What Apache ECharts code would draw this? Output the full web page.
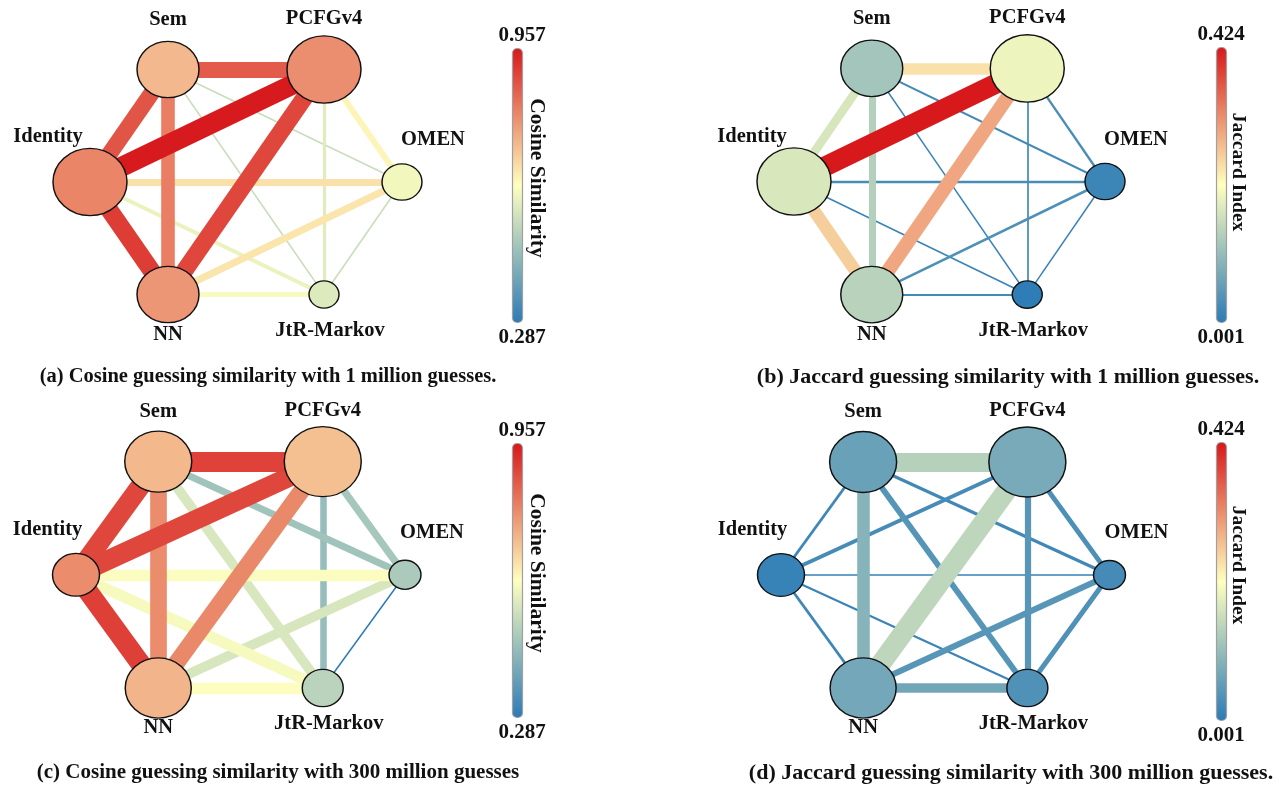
<!DOCTYPE html>
<html><head><meta charset="utf-8">
<script src="https://cdn.jsdelivr.net/npm/echarts@6/dist/echarts.min.js"></script>
<style>html,body{margin:0;padding:0;background:#fff}#c{width:1281px;height:786px}</style>
</head><body><div id="c"></div>
<script>
// ---------------- DATA ----------------
const nodeNames = ['Sem', 'PCFGv4', 'OMEN', 'JtR-Markov', 'NN', 'Identity'];
// relative size of each guesser's guess set (node area)
const guessSetSize1M   = [38.4, 54.8, 16.0, 9.0, 38.4, 54.8];
const guessSetSize300M = [44.9, 59.3, 10.2, 16.8, 43.6, 22.1];
// mean similarity per guesser (node colour)
const cosineNode1M    = [0.725, 0.786, 0.602, 0.568, 0.775, 0.800];
const jaccardNode1M   = [0.120, 0.195, 0.017, 0.004, 0.141, 0.174];
const cosineNode300M  = [0.724, 0.714, 0.488, 0.511, 0.731, 0.790];
const jaccardNode300M = [0.062, 0.077, 0.027, 0.037, 0.072, 0.012];
// pairwise similarity, pair order: (0,1)(0,2)(0,3)(0,4)(0,5)(1,2)(1,3)(1,4)(1,5)(2,3)(2,4)(2,5)(3,4)(3,5)(4,5)
const cosineEdge1M    = [0.860, 0.535, 0.535, 0.810, 0.870, 0.636, 0.575, 0.890, 0.955, 0.540, 0.660, 0.665, 0.611, 0.590, 0.905];
const jaccardEdge1M   = [0.240, 0.025, 0.015, 0.137, 0.172, 0.030, 0.015, 0.293, 0.424, 0.012, 0.035, 0.030, 0.025, 0.015, 0.258];
const cosineEdge300M  = [0.898, 0.471, 0.560, 0.790, 0.890, 0.480, 0.455, 0.796, 0.890, 0.287, 0.558, 0.615, 0.617, 0.610, 0.900];
const jaccardEdge300M = [0.138, 0.022, 0.042, 0.092, 0.020, 0.034, 0.045, 0.147, 0.028, 0.036, 0.045, 0.010, 0.070, 0.015, 0.020];
const cosineRange  = [0.287, 0.957];
const jaccardRange = [0.001, 0.424];
const captions = [
  '(a) Cosine guessing similarity with 1 million guesses.',
  '(b) Jaccard guessing similarity with 1 million guesses.',
  '(c) Cosine guessing similarity with 300 million guesses',
  '(d) Jaccard guessing similarity with 300 million guesses.'
];
const barTitles = ['Cosine Similarity', 'Jaccard Index'];

// ---------------- STYLE / LAYOUT ----------------
const FONT = '"Liberation Serif", "Times New Roman", serif';
const cmap = ['#2c7bb6', '#ffffbf', '#d7191c'];
function hex2rgb(h) { h = h.replace('#', ''); return [0, 2, 4].map(i => parseInt(h.substr(i, 2), 16)); }
const cmapRGB = cmap.map(hex2rgb);
function colorAt(v, range) {
  let t = (v - range[0]) / (range[1] - range[0]);
  t = Math.max(0, Math.min(1, t));
  const seg = t * (cmapRGB.length - 1);
  const i = Math.min(cmapRGB.length - 2, Math.floor(seg));
  const f = seg - i;
  const a = cmapRGB[i], b = cmapRGB[i + 1];
  return 'rgb(' + a.map((c, k) => Math.round(c + (b[k] - c) * f)).join(',') + ')';
}

const panels = [
  { grid: {left: 90, right: 879, top: 69.5, bottom: 491.5}, sizes: guessSetSize1M, node: cosineNode1M, edge: cosineEdge1M, range: cosineRange,
    bar: {left: 513, top: 49, h: 273}, labelX: 522, title: barTitles[0], titleSize: 21.5, titlePos: [537, 178], capPos: [268, 377], capSize: 20.5 },
  { grid: {left: 794, right: 176, top: 68.4, bottom: 491.4}, sizes: guessSetSize1M, node: jaccardNode1M, edge: jaccardEdge1M, range: jaccardRange,
    bar: {left: 1217, top: 48, h: 274}, labelX: 1221, title: barTitles[1], titleSize: 19.5, titlePos: [1238, 172], capPos: [1008, 377], capSize: 22 },
  { grid: {left: 76, right: 876, top: 461.6, bottom: 98}, sizes: guessSetSize300M, node: cosineNode300M, edge: cosineEdge300M, range: cosineRange,
    bar: {left: 513, top: 444, h: 273}, labelX: 522, title: barTitles[0], titleSize: 21.5, titlePos: [537, 573], capPos: [278, 773], capSize: 21 },
  { grid: {left: 781, right: 171.5, top: 462, bottom: 98}, sizes: guessSetSize300M, node: jaccardNode300M, edge: jaccardEdge300M, range: jaccardRange,
    bar: {left: 1217, top: 443, h: 277}, labelX: 1221, title: barTitles[1], titleSize: 19.5, titlePos: [1238, 565], capPos: [1011, 773], capSize: 22 }
];

// hexagon layout: Sem at 120deg, going clockwise in 60deg steps
function nodePos(i) {
  const a = (120 - 60 * i) * Math.PI / 180;
  return [Math.cos(a), Math.sin(a) / Math.sin(Math.PI / 3)];
}
function diameter(size) { return 10 * Math.sqrt(size); }
function labelOffset(name, w) {
  switch (name) {
    case 'Sem': return [0, -50];
    case 'PCFGv4': return [0, -51];
    case 'OMEN': return [w / 2 + 11, -42];
    case 'JtR-Markov': return [6, 36];
    case 'NN': return [0, 40];
    case 'Identity': return [-(w / 2 + 5), -45];
  }
  return [0, 0];
}

const pairs = [];
for (let i = 0; i < nodeNames.length; i++) for (let j = i + 1; j < nodeNames.length; j++) pairs.push([i, j]);

const grids = [], xAxes = [], yAxes = [], series = [], visualMaps = [], graphics = [];
panels.forEach((p, k) => {
  grids.push(Object.assign({containLabel: false}, p.grid));
  xAxes.push({type: 'value', gridIndex: k, min: -1, max: 1, show: false});
  yAxes.push({type: 'value', gridIndex: k, min: -1, max: 1, show: false});
  const eMin = Math.min(...p.edge), eMax = Math.max(...p.edge);
  const links = pairs.map((pr, e) => ({
    source: nodeNames[pr[0]], target: nodeNames[pr[1]], v: p.edge[e],
    lineStyle: {width: 1.5 + 18.5 * (p.edge[e] - eMin) / (eMax - eMin), color: colorAt(p.edge[e], p.range), opacity: 1}
  })).sort((a, b) => a.v - b.v);
  const data = nodeNames.map((n, i) => {
    const w = diameter(p.sizes[i]);
    return {
      name: n, value: nodePos(i), symbolSize: [w, w * 0.91],
      itemStyle: {color: colorAt(p.node[i], p.range), borderColor: '#111', borderWidth: 1.4},
      label: {offset: labelOffset(n, w)}
    };
  });
  series.push({
    type: 'graph', coordinateSystem: 'cartesian2d', xAxisIndex: k, yAxisIndex: k,
    symbol: 'circle', data: data, links: links, edgeSymbol: ['none', 'none'],
    lineStyle: {curveness: 0, opacity: 1},
    label: {show: true, position: 'inside', color: '#111', fontFamily: FONT, fontWeight: 'bold', fontSize: 20.5},
    emphasis: {disabled: true}, silent: true, animation: false
  });
  visualMaps.push({
    type: 'continuous', seriesIndex: [], min: p.range[0], max: p.range[1], orient: 'vertical',
    left: p.bar.left, top: p.bar.top, itemWidth: 9, itemHeight: p.bar.h, padding: 0,
    calculable: false, hoverLink: false, inRange: {color: cmap}
  });
  graphics.push({type: 'rect', z: 100, shape: {x: p.bar.left - 0.5, y: p.bar.top - 0.5, width: 10, height: p.bar.h + 1, r: 4.5},
    style: {fill: 'none', stroke: '#a0a0a0', lineWidth: 1.2}, silent: true});
  graphics.push({type: 'text', z: 100, x: p.labelX, y: p.bar.top - 13,
    style: {text: p.range[1].toFixed(3), font: 'bold 21px ' + FONT, fill: '#111', align: 'center', verticalAlign: 'middle'}});
  graphics.push({type: 'text', z: 100, x: p.labelX, y: p.bar.top + p.bar.h + 16,
    style: {text: p.range[0].toFixed(3), font: 'bold 21px ' + FONT, fill: '#111', align: 'center', verticalAlign: 'middle'}});
  graphics.push({type: 'text', z: 100, x: p.titlePos[0], y: p.titlePos[1], rotation: -Math.PI / 2,
    style: {text: p.title, font: 'bold ' + p.titleSize + 'px ' + FONT, fill: '#111', align: 'center', verticalAlign: 'middle'}});
  graphics.push({type: 'text', z: 100, x: p.capPos[0], y: p.capPos[1],
    style: {text: captions[k], font: 'bold ' + p.capSize + 'px ' + FONT, fill: '#111', align: 'center', verticalAlign: 'middle'}});
});

const chart = echarts.init(document.getElementById('c'), null, {renderer: 'canvas'});
chart.setOption({
  backgroundColor: '#fff', animation: false,
  grid: grids, xAxis: xAxes, yAxis: yAxes, series: series, visualMap: visualMaps, graphic: graphics
});
</script></body></html>
